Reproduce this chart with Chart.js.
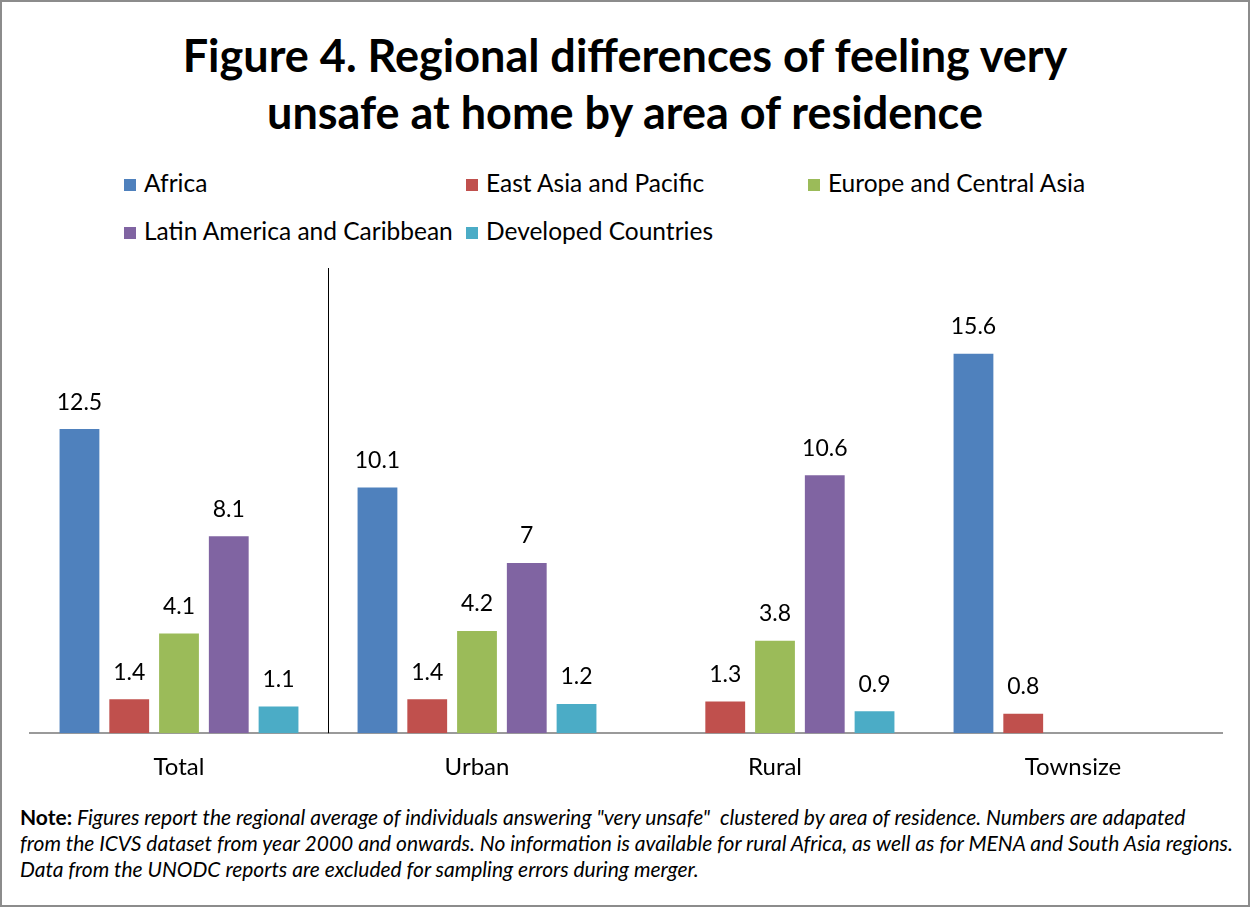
<!DOCTYPE html>
<html>
<head>
<meta charset="utf-8">
<script src="https://cdn.jsdelivr.net/npm/chart.js@4.4.1/dist/chart.umd.min.js"></script>
<style>
  html, body { margin: 0; padding: 0; background: #fff; }
  #page {
    position: relative;
    width: 1250px;
    height: 907px;
    box-sizing: border-box;
    border: 2px solid #8c8c8c;
    font-family: Lato, 'Open Sans', sans-serif;
    color: #000;
    overflow: hidden;
  }
  #title {
    position: absolute;
    left: 0; right: 0; top: 25px;
    text-align: center;
    font-weight: bold;
    font-size: 45px;
    line-height: 57px;
  }
  #legend {
    position: absolute;
    left: 122px; top: 157px;
    display: grid;
    grid-template-columns: 342px 342px 342px;
    font-size: 24.5px;
    line-height: 48px;
  }
  #legend .item { white-space: nowrap; }
  #legend .box {
    display: inline-block;
    width: 12px; height: 12px;
    margin-right: 8px;
    vertical-align: 1px;
  }
  #chart-wrap {
    position: absolute;
    left: -2px; top: -2px;
    width: 1250px; height: 802px;
  }
  #note {
    position: absolute;
    left: 18px; top: 802px;
    font-size: 21px;
    line-height: 26px;
    font-style: italic;
    white-space: nowrap;
  }
  #note b { font-style: normal; }
</style>
</head>
<body>
<div id="page">
  <div id="title">Figure 4. Regional differences of feeling very<br>unsafe at home by area of residence</div>
  <div id="legend"></div>
  <div id="chart-wrap"><canvas id="chart"></canvas></div>
  <div id="note"><b>Note:</b> Figures report the regional average of individuals answering "very unsafe"&nbsp; clustered by area of residence. Numbers are adapated<br>from the ICVS dataset from year 2000 and onwards. No information is available for rural Africa, as well as for MENA and South Asia regions.<br>Data from the UNODC reports are excluded for sampling errors during merger.</div>
</div>
<script>
const CATEGORIES = ['Total', 'Urban', 'Rural', 'Townsize'];
const SERIES_NAMES = [
  'Africa',
  'East Asia and Pacific',
  'Europe and Central Asia',
  'Latin America and Caribbean',
  'Developed Countries',
];
const AFRICA = [12.5, 10.1, null, 15.6];
const EAST_ASIA = [1.4, 1.4, 1.3, 0.8];
const EUROPE = [4.1, 4.2, 3.8, null];
const LATIN_AMERICA = [8.1, 7, 10.6, null];
const DEVELOPED = [1.1, 1.2, 0.9, null];
const COLORS = ['#4f81bd', '#c0504d', '#9bbb59', '#8064a2', '#4bacc6'];

const seriesValues = [AFRICA, EAST_ASIA, EUROPE, LATIN_AMERICA, DEVELOPED];

// value labels above each bar
const valueLabels = {
  id: 'valueLabels',
  afterDatasetsDraw(chart) {
    const ctx = chart.ctx;
    ctx.save();
    ctx.font = '23px Lato, "Open Sans", sans-serif';
    ctx.fillStyle = '#000';
    ctx.textAlign = 'center';
    ctx.textBaseline = 'middle';
    chart.data.datasets.forEach((ds, i) => {
      const meta = chart.getDatasetMeta(i);
      meta.data.forEach((bar, j) => {
        const v = ds.data[j];
        if (v === null || v === undefined) return;
        ctx.fillText(String(v), bar.x, bar.y - 27);
      });
    });
    ctx.restore();
  },
};

// vertical line between Total and the area groups
const separator = {
  id: 'separator',
  afterDraw(chart) {
    const x = chart.scales.x;
    const ctx = chart.ctx;
    const px = Math.round((x.getPixelForValue(0) + x.getPixelForValue(1)) / 2) + 0.5;
    ctx.save();
    ctx.strokeStyle = '#000';
    ctx.lineWidth = 1;
    ctx.beginPath();
    ctx.moveTo(px, chart.chartArea.top - 3);
    ctx.lineTo(px, chart.chartArea.bottom);
    ctx.stroke();
    ctx.restore();
  },
};

const chart = new Chart(document.getElementById('chart'), {
  type: 'bar',
  data: {
    labels: CATEGORIES,
    datasets: SERIES_NAMES.map((name, i) => ({
      label: name,
      data: seriesValues[i],
      backgroundColor: COLORS[i],
      categoryPercentage: 0.835,
      barPercentage: 0.8,
    })),
  },
  options: {
    responsive: true,
    maintainAspectRatio: false,
    animation: false,
    layout: { padding: { top: 271, left: 30, right: 28, bottom: 0 } },
    plugins: {
      legend: { display: false },
      title: { display: false },
      tooltip: { enabled: false },
    },
    scales: {
      x: {
        grid: { display: false, drawTicks: false },
        border: { display: true, color: '#9a9a9a', width: 2 },
        ticks: {
          color: '#000',
          padding: 20,
          font: { family: 'Lato, "Open Sans", sans-serif', size: 24 },
        },
      },
      y: {
        display: false,
        min: 0,
        max: 19,
      },
    },
  },
  plugins: [valueLabels, separator],
});

// HTML legend built from the datasets
const legendEl = document.getElementById('legend');
chart.data.datasets.forEach((ds) => {
  const item = document.createElement('div');
  item.className = 'item';
  const box = document.createElement('span');
  box.className = 'box';
  box.style.background = ds.backgroundColor;
  item.appendChild(box);
  item.appendChild(document.createTextNode(ds.label));
  legendEl.appendChild(item);
});
</script>
</body>
</html>
